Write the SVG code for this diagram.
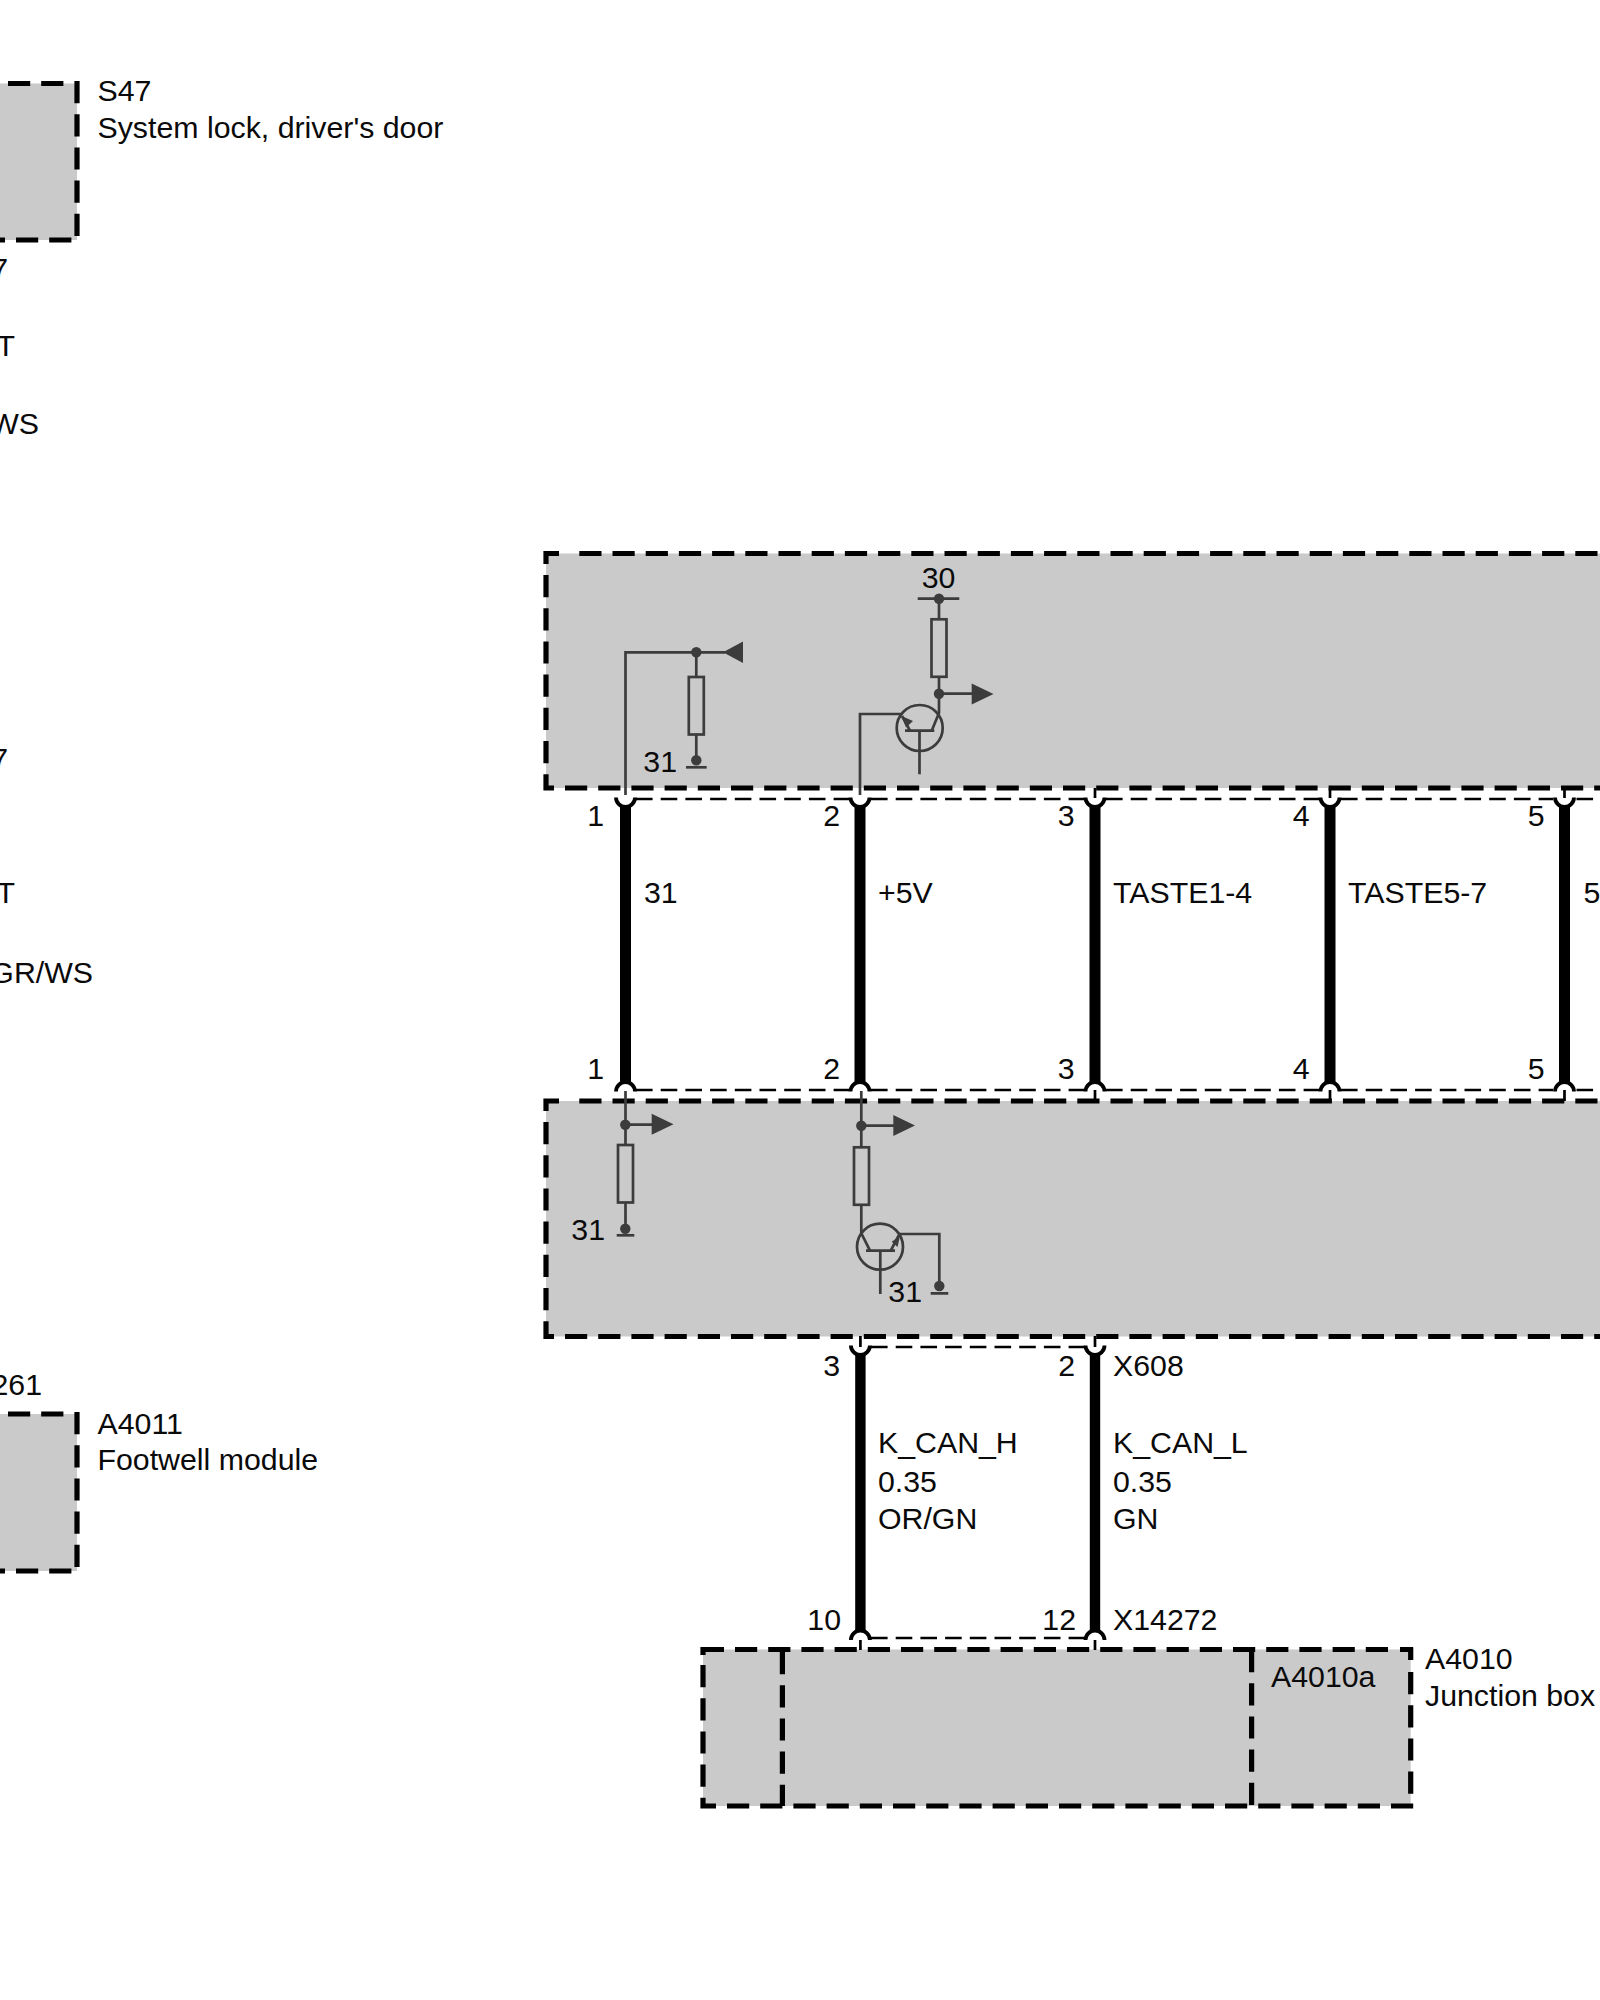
<svg xmlns="http://www.w3.org/2000/svg" xmlns:xlink="http://www.w3.org/1999/xlink" width="1600" height="2000" viewBox="0 0 1600 2000">
<style>
text{font-family:"Liberation Sans",Arial,sans-serif;font-size:30.3px;fill:#0a0a0a}
.e{text-anchor:end}
.m{text-anchor:middle}
.f{fill:#cacaca;stroke:none}
.b{fill:none;stroke:#000;stroke-width:5.2;stroke-dasharray:22.2 11}
.w{fill:none;stroke:#000;stroke-width:11}
.n{fill:none;stroke:#000;stroke-width:10.4}
.d{fill:none;stroke:#000;stroke-width:2.7;stroke-dasharray:16.6 8.1}
.c{fill:none;stroke:#000;stroke-width:3.8}
.s{fill:none;stroke:#000;stroke-width:2.7}
.l{fill:none;stroke:#3c3c3c;stroke-width:2.7}
.p{fill:#3c3c3c;stroke:none}
</style>
<defs>
<path id="up" class="c" d="M-9.5 797.5A9.5 9.5 0 0 0 9.5 797.5"/>
<path id="dn" class="c" d="M-9.5 1091.5A9.5 9.5 0 0 1 9.5 1091.5"/>
<g id="res"><rect class="l" x="-7.5" y="0" width="15" height="57.5"/></g>
</defs>
<rect width="1600" height="2000" fill="#fff"/>

<g id="S47">
<rect class="f" x="0" y="83.5" width="77" height="156.5"/>
<path class="b" d="M8 83.5H64M77 81V242M0 240H5M16 240H72"/>
<text x="97.5" y="101">S47</text>
<text x="97.5" y="138">System lock, driver's door</text>
</g>

<g id="labels-left">
<text class="e" x="8" y="278.5">7</text>
<text class="e" x="15" y="356">T</text>
<text class="e" x="39" y="434">WS</text>
<text class="e" x="8" y="769">7</text>
<text class="e" x="15" y="903">T</text>
<text class="e" x="93" y="982.5">GR/WS</text>
<text class="e" x="42" y="1395">261</text>
</g>

<g id="A4011">
<rect class="f" x="0" y="1414" width="77" height="157"/>
<path class="b" d="M8 1414H64M77 1412V1573M0 1571H5M16 1571H72"/>
<text x="97.5" y="1434">A4011</text>
<text x="97.5" y="1470">Footwell module</text>
</g>

<g id="module-top">
<rect class="f" x="546" y="553.5" width="1054" height="234.5"/>
<path class="b" d="M543.5 553.5H559M579.3 553.5H1600M546 551V564M546 575V790.5M543.5 788H554M565 788H1600"/>
<g id="top-input">
<path class="l" d="M625.5 795V652.3H725M696.3 652.3V677M696.3 734.5V760"/>
<use xlink:href="#res" href="#res" transform="translate(696.3 677)"/>
<circle class="p" cx="696.3" cy="652.3" r="5.2"/>
<circle class="p" cx="696.3" cy="760.3" r="5.2"/>
<path class="l" d="M686 767.3H706.7"/>
<polygon class="p" points="723,652.3 743,641.5 743,663"/>
<text class="e" x="677" y="772">31</text>
</g>
<g id="top-transistor">
<path class="l" d="M917.7 598.7H959.3M939 598.7V619.3M939 676.7V713L931.7 730.7M939 693.7H973"/>
<use xlink:href="#res" href="#res" transform="translate(939 619.3)"/>
<circle class="p" cx="939" cy="598.7" r="5.2"/>
<circle class="p" cx="939" cy="693.7" r="5.2"/>
<polygon class="p" points="993.5,693.9 971.7,683.5 971.7,704.5"/>
<circle class="l" cx="919.7" cy="728" r="23"/>
<path class="l" d="M905 730.7H934.3M919.5 730.7V774.3M910 730.7L902 716M860 795V714H901"/>
<polygon class="p" points="901.5,716 913,721 906,727.5"/>
<text class="m" x="938.5" y="588">30</text>
</g>
</g>

<g id="module-mid">
<rect class="f" x="546" y="1101" width="1054" height="235.5"/>
<path class="b" d="M543.5 1101H559M579.3 1101H1600M546 1098.5V1111M546 1122V1339M543.5 1336.5H554M565 1336.5H1600"/>
<g id="mid-input">
<path class="l" d="M625.5 1091V1145M625.3 1124.7H652M625.5 1203V1228"/>
<use xlink:href="#res" href="#res" transform="translate(625.5 1145)"/>
<circle class="p" cx="625.3" cy="1124.7" r="5.2"/>
<circle class="p" cx="625.3" cy="1228.7" r="5.2"/>
<path class="l" d="M616.7 1235.3H634.3"/>
<polygon class="p" points="673.5,1124.3 651.7,1113.8 651.7,1134.8"/>
<text class="e" x="605" y="1240">31</text>
</g>
<g id="mid-transistor">
<path class="l" d="M861.3 1091V1147.3M861.3 1125.7H894M861.3 1205V1233.3L870 1250.7"/>
<use xlink:href="#res" href="#res" transform="translate(861.5 1147.3)"/>
<circle class="p" cx="861.3" cy="1125.7" r="5.2"/>
<polygon class="p" points="915,1125.5 893.3,1115 893.3,1136"/>
<circle class="l" cx="880" cy="1246.7" r="23"/>
<path class="l" d="M866 1250.7H895M880.3 1250.7V1294M890.7 1250.7L899 1235M899 1234H939.3V1286M930.7 1293.3H948.3"/>
<polygon class="p" points="900,1236 891.7,1241.7 897.5,1247"/>
<circle class="p" cx="939.3" cy="1286" r="5.2"/>
<text class="e" x="922" y="1301.5">31</text>
</g>
</g>

<g id="A4010">
<rect class="f" x="703" y="1649.5" width="707.7" height="156.5"/>
<path class="b" d="M1388 1649.5H700.5M1400 1649.5H1413.2M703 1647V1655M703 1665V1808.5M1413.2 1806H700.5M782.4 1652V1806M1251.6 1650V1806M1410.7 1648V1660M1410.7 1672V1795"/>
<text x="1271" y="1687">A4010a</text>
<text x="1425" y="1669">A4010</text>
<text x="1425" y="1706">Junction box</text>
</g>

<g id="connectors">
<path class="w" d="M625.5 805V1084M860 805V1084M1095 805V1084M1330 805V1084M1564.5 805V1084"/>
<path class="n" d="M860.4 1353V1632M1095 1353V1632"/>
<path class="d" d="M636 799H849M871 799H1084M1106 799H1319M1341 799H1553M1576.5 799H1600"/>
<path class="d" d="M636 1090H849M871 1090H1084M1106 1090H1319M1341 1090H1553M1576.5 1090H1600"/>
<path class="d" d="M871 1347H1085M871 1638H1085"/>
<path class="s" d="M1095 788V798M1330 788V798M1564.5 788V798M1095 1090V1101M1330 1090V1101M1564.5 1090V1101M860.4 1336V1347M1095 1336V1347M860.4 1640V1650M1095 1640V1650"/>
<use xlink:href="#up" href="#up" x="625.5"/><use xlink:href="#up" href="#up" x="860"/><use xlink:href="#up" href="#up" x="1095"/><use xlink:href="#up" href="#up" x="1330"/><use xlink:href="#up" href="#up" x="1564.5"/>
<use xlink:href="#dn" href="#dn" x="625.5"/><use xlink:href="#dn" href="#dn" x="860"/><use xlink:href="#dn" href="#dn" x="1095"/><use xlink:href="#dn" href="#dn" x="1330"/><use xlink:href="#dn" href="#dn" x="1564.5"/>
<path class="c" d="M850.9 1345.5A9.5 9.5 0 0 0 869.9 1345.5M1085.5 1345.5A9.5 9.5 0 0 0 1104.5 1345.5M850.9 1640A9.5 9.5 0 0 1 869.9 1640M1085.5 1640A9.5 9.5 0 0 1 1104.5 1640"/>
</g>

<g id="wire-labels">
<text class="e" x="604" y="826">1</text><text class="e" x="840" y="826">2</text><text class="e" x="1074.5" y="826">3</text><text class="e" x="1309.5" y="826">4</text><text class="e" x="1544.5" y="826">5</text>
<text x="644" y="903">31</text><text x="878" y="903">+5V</text><text x="1113" y="903">TASTE1-4</text><text x="1348" y="903">TASTE5-7</text><text x="1583.5" y="903">5</text>
<text class="e" x="604" y="1079">1</text><text class="e" x="840" y="1079">2</text><text class="e" x="1074.5" y="1079">3</text><text class="e" x="1309.5" y="1079">4</text><text class="e" x="1544.5" y="1079">5</text>
<text class="e" x="840" y="1376">3</text><text class="e" x="1075" y="1376">2</text><text x="1113" y="1376">X608</text>
<text x="878" y="1453">K_CAN_H</text><text x="878" y="1491.5">0.35</text><text x="878" y="1529">OR/GN</text>
<text x="1113" y="1453">K_CAN_L</text><text x="1113" y="1491.5">0.35</text><text x="1113" y="1529">GN</text>
<text class="e" x="841" y="1630">10</text><text class="e" x="1076" y="1630">12</text><text x="1113" y="1630">X14272</text>
</g>
</svg>
